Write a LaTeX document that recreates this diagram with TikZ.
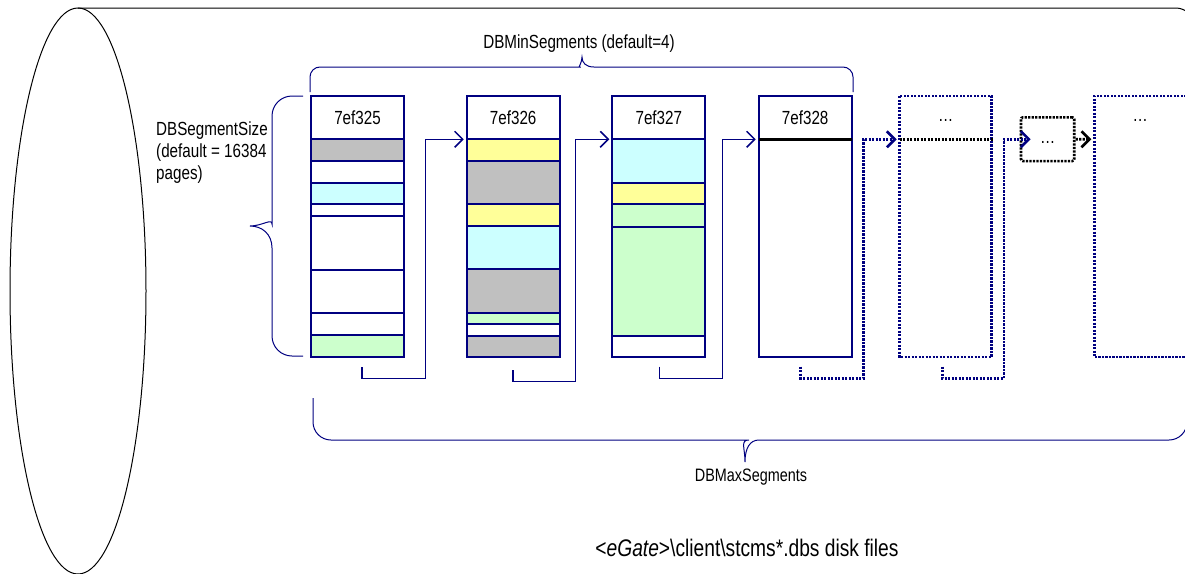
\documentclass[tikz,border=0pt]{standalone}
\usepackage{fontspec}
\setmainfont{Liberation Sans}[FakeStretch=0.8]
\usetikzlibrary{arrows.meta,positioning}
\definecolor{navy}{RGB}{0,0,128}
\definecolor{bandgrey}{RGB}{192,192,192}
\definecolor{bandyellow}{RGB}{255,255,153}
\definecolor{bandcyan}{RGB}{204,255,255}
\definecolor{bandgreen}{RGB}{204,255,204}
\newcommand{\lowdots}{\smash{\raisebox{-4pt}{\dots}}}
\tikzset{
  seghead/.style={draw=navy, line width=2pt, inner sep=0pt, outer sep=0pt, minimum width=93pt, minimum height=43.3pt},
  segbody/.style={seghead, minimum height=217.7pt},
  ghosthead/.style={inner sep=0pt, outer sep=0pt, minimum width=92pt, minimum height=43.3pt},
  ghostbody/.style={ghosthead, minimum height=217.7pt},
  band/.style={draw=navy, line width=2pt},
  link/.style={draw=navy, line width=1.5pt, shorten >=3pt, -{Straight Barb[length=8pt,width=16pt]}},
  dotlink/.style={link, line width=2.6pt, dash pattern=on 2.2pt off 1.3pt},
  dotbox/.style={draw=navy, line width=2.6pt, dash pattern=on 2.2pt off 1.3pt},
  brace/.style={draw=navy, line width=1pt},
}
\begin{document}
\begin{tikzpicture}[x=1pt, y=-1pt, font=\fontsize{19}{22}\selectfont]
\useasboundingbox (0,0) rectangle (1185,573);
% cylindre
\draw[line width=1pt] (78,291) ellipse [x radius=68pt, y radius=283pt];
\draw[line width=1pt] (78,8) -- (1176,8) arc [start angle=90, end angle=-90, x radius=68pt, y radius=285pt] -- (78,578);
% segments
\node[seghead] (h1) at (357.5,117.65) {7ef325};
\node[segbody, below=0pt of h1] (b1) {};
\node[seghead, right=62.7pt of h1] (h2) {7ef326};
\node[segbody, below=0pt of h2] (b2) {};
\node[seghead, right=52.6pt of h2] (h3) {7ef327};
\node[segbody, below=0pt of h3] (b3) {};
\node[seghead, right=53.4pt of h3] (h4) {7ef328};
\node[segbody, below=0pt of h4] (b4) {};
% bandes
\foreach \ya/\yb/\c in {139.3/161/bandgrey, 161/182.7/white, 182.7/204/bandcyan, 204/215.7/white,
    215.7/270/white, 270/313/white, 313/335/white, 335/357/bandgreen}
  \filldraw[band, fill=\c] (b1.west |- 0,\ya) rectangle (b1.east |- 0,\yb);
\foreach \ya/\yb/\c in {139.3/161/bandyellow, 161/204.3/bandgrey, 204.3/225.7/bandyellow, 225.7/269.3/bandcyan,
    269.3/312.7/bandgrey, 312.7/324.3/bandgreen, 324.3/335.7/white, 335.7/357/bandgrey}
  \filldraw[band, fill=\c] (b2.west |- 0,\ya) rectangle (b2.east |- 0,\yb);
\foreach \ya/\yb/\c in {139.3/182.7/bandcyan, 182.7/204.3/bandyellow, 204.3/226.7/bandgreen,
    226.7/335.7/bandgreen, 335.7/357/white}
  \filldraw[band, fill=\c] (b3.west |- 0,\ya) rectangle (b3.east |- 0,\yb);
\draw[line width=2.5pt] (h4.south west) -- (h4.south east);
% segments a venir
\node[ghosthead, right=48pt of h4] (h5) {\lowdots};
\node[ghostbody, below=0pt of h5] (b5) {};
\draw[dotbox] (h5.north west) rectangle (b5.south east);
\draw[dotbox, draw=black] (h5.south west) -- ([xshift=2pt]h5.south east);
\node[draw=black, line width=2.6pt, dash pattern=on 2.2pt off 1.3pt, rounded corners=2pt,
  minimum width=53.3pt, minimum height=43.7pt, inner sep=0pt] (more) at (1047.6,139.2) {\lowdots};
\node[ghosthead, anchor=north west] (h6) at (1094.3,96) {\lowdots};
\node[ghostbody, below=0pt of h6] (b6) {};
\draw[dotbox] (h6.north east) -- (h6.north west) -- (b6.south west) -- (b6.south east);
% liens
\coordinate (s1) at ([xshift=4.5pt, yshift=-10pt]b1.south);
\draw[link] (s1) |- ++(63.3,11.3) |- (h2.south west);
\coordinate (s2) at ([yshift=-13pt]b2.south);
\draw[link] (s2) |- ++(62.4,11.7) |- (h3.south west);
\coordinate (s3) at ([xshift=0.5pt, yshift=-9.7pt]b3.south);
\draw[link] (s3) |- ++(63,11.6) |- (h4.south west);
\coordinate (s4) at ([xshift=-4.5pt, yshift=-9.7pt]b4.south);
\draw[dotlink] (s4) |- ++(62.6,11.6) |- (h5.south west);
\coordinate (s5) at ([xshift=-3.5pt, yshift=-9.7pt]b5.south);
\draw[dotlink] (s5) |- ++(61.6,11.6) |- ([xshift=14pt]more.west);
\draw[dotlink, draw=black] (more.east) -- (h6.south west);
% accolades
\draw[brace] (310,92) [rounded corners=10pt] |- (570,67) [sharp corners]
  .. controls (578,67) and (582,63) .. (582,57) .. controls (582,63) and (586,67) .. (594,67)
  [rounded corners=10pt] -| (853,92);
\draw[brace] (303,96) [rounded corners=20pt] -| (272,204) [sharp corners]
  .. controls (272,218) and (262,226) .. (250,226) .. controls (262,226) and (272,234) .. (272,248)
  [rounded corners=20pt] |- (303,356);
\draw[brace] (313,398) [rounded corners=18pt] |- (731,440) [sharp corners]
  .. controls (740,440) and (745,448) .. (745,462) .. controls (745,448) and (750,440) .. (759,440)
  [rounded corners=18pt] -| (1187,398);
% textes
\node (minlbl) at (579,44) {DBMinSegments (default=4)};
\node[align=left, anchor=north west, inner sep=0pt] (sizelbl) at (156,122) {DBSegmentSize\\(default = 16384\\pages)};
\node[font=\fontsize{18}{22}\selectfont] (maxlbl) at (751,477) {DBMaxSegments};
\node[font=\fontsize{24}{28}\selectfont] (filelbl) at (747,548) {<\textit{eGate}>\textbackslash client\textbackslash stcms*.dbs disk files};
\end{tikzpicture}
\end{document}
